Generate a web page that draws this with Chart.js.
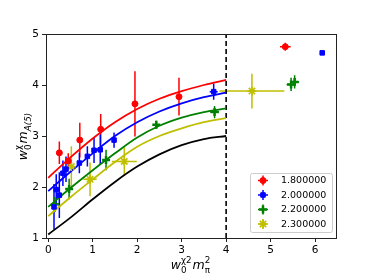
<!DOCTYPE html>
<html>
<head>
<meta charset="utf-8">
<script src="https://cdn.jsdelivr.net/npm/chart.js@4.4.1/dist/chart.umd.min.js"></script>
<style>
  html, body { margin: 0; padding: 0; background: #fff; }
  #wrap { width: 374px; height: 280px; }
</style>
</head>
<body>
<div id="wrap"><canvas id="chart" width="374" height="280"></canvas></div>
<script>
// series labels (beta values)
var seriesLabels = ["1.800000", "2.000000", "2.200000", "2.300000"];
var seriesColors = ["#ff0000", "#0000ff", "#008000", "#bfbf00"];

// red points
var redX   = [0.25, 0.45, 0.71, 1.18, 1.95, 2.94, 5.33];
var redY   = [2.67, 2.51, 2.92, 3.13, 3.63, 3.77, 4.75];
var redYE  = [0.22, 0.15, 0.34, 0.30, 0.64, 0.37, 0.08];
var redXE  = [0.02, 0.02, 0.02, 0.02, 0.02, 0.02, 0.12];

// blue points
var blueX  = [0.13, 0.18, 0.25, 0.33, 0.40, 0.70, 0.88, 1.03, 1.17, 1.48, 3.72, 6.16];
var blueY  = [1.61, 1.95, 1.84, 2.27, 2.35, 2.47, 2.60, 2.72, 2.73, 2.92, 3.87, 4.63];
var blueYE = [0.45, 0.30, 0.45, 0.25, 0.25, 0.20, 0.20, 0.25, 0.30, 0.15, 0.16, 0.03];
var blueXE = [0.02, 0.02, 0.02, 0.02, 0.02, 0.02, 0.02, 0.02, 0.02, 0.02, 0.09, 0.03];

// green points
var greenX  = [0.15, 0.47, 1.30, 2.43, 3.74, 5.46, 5.54];
var greenY  = [1.66, 1.96, 2.53, 3.22, 3.47, 4.01, 4.06];
var greenYE = [0.15, 0.20, 0.20, 0.08, 0.12, 0.13, 0.13];
var greenXE = [0.02, 0.02, 0.02, 0.07, 0.10, 0.10, 0.10];

// yellow points
var yellowX  = [0.52, 0.94, 1.71, 4.58];
var yellowY  = [2.40, 2.15, 2.50, 3.88];
var yellowYE = [0.40, 0.33, 0.28, 0.34];
var yellowXE = [0.02, 0.15, 0.28, 0.73];

// fit curves
var curveX      = [0, 0.5, 1, 1.5, 2, 2.5, 3, 3.5, 4];
var redCurve    = [2.18, 2.58, 2.95, 3.27, 3.53, 3.73, 3.88, 4.00, 4.10];
var blueCurve   = [1.92, 2.30, 2.66, 3.00, 3.27, 3.48, 3.64, 3.76, 3.85];
var greenCurve  = [1.61, 1.98, 2.33, 2.66, 2.97, 3.20, 3.36, 3.47, 3.54];
var yellowCurve = [1.43, 1.80, 2.15, 2.49, 2.79, 3.00, 3.15, 3.27, 3.35];
var blackCurve  = [1.07, 1.40, 1.76, 2.10, 2.40, 2.64, 2.82, 2.94, 3.00];

// cut line
var cutX = [4, 4];
var cutY = [1, 5];

var xTicks = [0, 1, 2, 3, 4, 5, 6];
var yTicks = [1, 2, 3, 4, 5];

var pointStyles = ["circle", "rect", "cross", "star"];
var pointRadii = [3, 3.2, 4, 4.5];
var pointBorders = [1, 1, 2.5, 1.6];

var FONT = "DejaVu Sans";

function zip(xs, ys) {
    var out = [];
    for (var i = 0; i < xs.length; i++) out.push({ x: xs[i], y: ys[i] });
    return out;
}

var errSeries = [
    { color: seriesColors[0], x: redX, y: redY, xe: redXE, ye: redYE },
    { color: seriesColors[1], x: blueX, y: blueY, xe: blueXE, ye: blueYE },
    { color: seriesColors[2], x: greenX, y: greenY, xe: greenXE, ye: greenYE },
    { color: seriesColors[3], x: yellowX, y: yellowY, xe: yellowXE, ye: yellowYE }
];

function curveSet(ys, color) {
    return {
        type: "line",
        data: zip(curveX, ys),
        borderColor: color,
        borderWidth: 1.8,
        pointRadius: 0,
        showLine: true,
        fill: false,
        cubicInterpolationMode: "monotone",
        order: 2
    };
}

function pointSet(idx, xs, ys) {
    return {
        type: "scatter",
        data: zip(xs, ys),
        backgroundColor: seriesColors[idx],
        borderColor: seriesColors[idx],
        pointStyle: pointStyles[idx],
        pointRadius: pointRadii[idx],
        borderWidth: pointBorders[idx],
        order: 1
    };
}

// error bars under the markers
var errorBarPlugin = {
    id: "errorBars",
    beforeDatasetsDraw: function(chart) {
        var ctx = chart.ctx;
        var sx = chart.scales.x, sy = chart.scales.y;
        ctx.save();
        ctx.lineWidth = 1.5;
        errSeries.forEach(function(s) {
            ctx.strokeStyle = s.color;
            for (var i = 0; i < s.x.length; i++) {
                var px = sx.getPixelForValue(s.x[i]);
                var py = sy.getPixelForValue(s.y[i]);
                ctx.beginPath();
                ctx.moveTo(px, sy.getPixelForValue(s.y[i] - s.ye[i]));
                ctx.lineTo(px, sy.getPixelForValue(s.y[i] + s.ye[i]));
                ctx.moveTo(sx.getPixelForValue(s.x[i] - s.xe[i]), py);
                ctx.lineTo(sx.getPixelForValue(s.x[i] + s.xe[i]), py);
                ctx.stroke();
            }
        });
        ctx.restore();
    }
};

// w_0^chi style labels
function mathWidth(ctx, parts, size) {
    var w = 0;
    parts.forEach(function(p) {
        ctx.font = "italic " + size + "px '" + FONT + "'";
        w += ctx.measureText(p.b).width;
        ctx.font = (p.subItalic ? "italic " : "") + (size * 0.7) + "px '" + FONT + "'";
        var a = p.sub ? ctx.measureText(p.sub).width : 0;
        ctx.font = (size * 0.7) + "px '" + FONT + "'";
        var b = p.sup ? ctx.measureText(p.sup).width : 0;
        w += Math.max(a, b) + 1;
    });
    return w;
}

function drawMath(ctx, parts, size, cx, cy) {
    var w = mathWidth(ctx, parts, size);
    var x = cx - w / 2;
    ctx.fillStyle = "#000";
    ctx.textBaseline = "alphabetic";
    ctx.textAlign = "left";
    parts.forEach(function(p) {
        ctx.font = "italic " + size + "px '" + FONT + "'";
        ctx.fillText(p.b, x, cy);
        x += ctx.measureText(p.b).width;
        var a = 0, b = 0;
        if (p.sub) {
            ctx.font = (p.subItalic ? "italic " : "") + (size * 0.7) + "px '" + FONT + "'";
            ctx.fillText(p.sub, x, cy + size * 0.3);
            a = ctx.measureText(p.sub).width;
        }
        if (p.sup) {
            ctx.font = (size * 0.7) + "px '" + FONT + "'";
            ctx.fillText(p.sup, x, cy - size * 0.45);
            b = ctx.measureText(p.sup).width;
        }
        x += Math.max(a, b) + 1;
    });
}

var xLabelParts = [{ b: "w", sub: "0", sup: "\u03c72" }, { b: "m", sub: "\u03c0", sup: "2" }];
var yLabelParts = [{ b: "w", sub: "0", sup: "\u03c7" }, { b: "m", sub: "A(5)", subItalic: true }];

var decorPlugin = {
    id: "decor",
    afterDraw: function(chart) {
        var ctx = chart.ctx;
        var a = chart.chartArea;
        ctx.save();
        // axes frame
        ctx.strokeStyle = "#222";
        ctx.lineWidth = 1;
        ctx.strokeRect(Math.round(a.left) + 0.5, Math.round(a.top) + 0.5,
                       Math.round(a.right - a.left), Math.round(a.bottom - a.top));

        // axis titles
        drawMath(ctx, xLabelParts, 12.5, (a.left + a.right) / 2, 269);
        ctx.save();
        ctx.translate(27, (a.top + a.bottom) / 2);
        ctx.rotate(-Math.PI / 2);
        drawMath(ctx, yLabelParts, 12.5, 0, 0);
        ctx.restore();

        // legend box
        var lx = 250, ly = 173, lw = 82, lh = 59;
        ctx.fillStyle = "rgba(255,255,255,0.85)";
        ctx.strokeStyle = "#cccccc";
        ctx.lineWidth = 1;
        ctx.beginPath();
        if (ctx.roundRect) ctx.roundRect(lx + 0.5, ly + 0.5, lw, lh, 2);
        else ctx.rect(lx + 0.5, ly + 0.5, lw, lh);
        ctx.fill();
        ctx.stroke();

        for (var i = 0; i < seriesLabels.length; i++) {
            var ey = ly + 7.5 + i * 14.5;
            var ex = lx + 13;
            ctx.strokeStyle = seriesColors[i];
            ctx.fillStyle = seriesColors[i];
            ctx.lineWidth = 1.5;
            ctx.beginPath();
            ctx.moveTo(ex - 5, ey); ctx.lineTo(ex + 5, ey);
            ctx.moveTo(ex, ey - 5); ctx.lineTo(ex, ey + 5);
            ctx.stroke();
            ctx.lineWidth = pointBorders[i];
            Chart.helpers.drawPoint(ctx, {
                pointStyle: pointStyles[i],
                radius: pointRadii[i],
                borderWidth: pointBorders[i],
                rotation: 0
            }, ex, ey);
            ctx.fillStyle = "#000";
            ctx.font = "9.5px '" + FONT + "'";
            ctx.textAlign = "left";
            ctx.textBaseline = "middle";
            ctx.fillText(seriesLabels[i], lx + 31, ey + 0.5);
        }
        ctx.restore();
    }
};

var datasets = [
    curveSet(redCurve, seriesColors[0]),
    curveSet(blueCurve, seriesColors[1]),
    curveSet(greenCurve, seriesColors[2]),
    curveSet(yellowCurve, seriesColors[3]),
    curveSet(blackCurve, "#000000"),
    {
        type: "line",
        data: zip(cutX, cutY),
        borderColor: "#000",
        borderWidth: 1.6,
        borderDash: [5, 3],
        pointRadius: 0,
        showLine: true,
        fill: false,
        order: 3
    },
    pointSet(0, redX, redY),
    pointSet(1, blueX, blueY),
    pointSet(2, greenX, greenY),
    pointSet(3, yellowX, yellowY)
];

var tickFont = { family: FONT, size: 10.5 };

new Chart(document.getElementById("chart").getContext("2d"), {
    type: "scatter",
    data: { datasets: datasets },
    options: {
        responsive: false,
        devicePixelRatio: 1,
        animation: false,
        layout: { padding: { top: 34, right: 38, left: 0, bottom: 0 } },
        plugins: {
            legend: { display: false },
            tooltip: { enabled: false }
        },
        scales: {
            x: {
                type: "linear",
                min: -0.05,
                max: 6.47,
                afterBuildTicks: function(s) {
                    s.ticks = xTicks.map(function(v) { return { value: v }; });
                },
                afterFit: function(s) { s.height = 42; },
                ticks: { font: tickFont, color: "#000", padding: 2, maxRotation: 0 },
                grid: { drawOnChartArea: false, tickLength: 4, color: "#222" },
                border: { color: "#222", width: 1 }
            },
            y: {
                type: "linear",
                min: 1,
                max: 5,
                afterBuildTicks: function(s) {
                    s.ticks = yTicks.map(function(v) { return { value: v }; });
                },
                afterFit: function(s) { s.width = 46; },
                ticks: { font: tickFont, color: "#000", padding: 3 },
                grid: { drawOnChartArea: false, tickLength: 4, color: "#222" },
                border: { color: "#222", width: 1 }
            }
        }
    },
    plugins: [errorBarPlugin, decorPlugin]
});
</script>
</body>
</html>
